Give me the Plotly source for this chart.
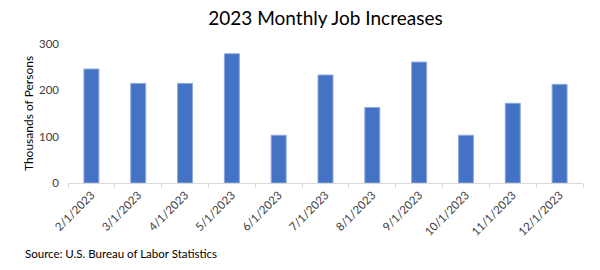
import plotly.graph_objects as go

categories = ["2/1/2023", "3/1/2023", "4/1/2023", "5/1/2023", "6/1/2023", "7/1/2023",
              "8/1/2023", "9/1/2023", "10/1/2023", "11/1/2023", "12/1/2023"]
job_increases = [246, 215, 215, 279, 103, 233, 163, 261, 103, 172, 213]
y_ticks = [0, 100, 200, 300]

FONT = "Lato"
fig = go.Figure()
fig.add_trace(go.Bar(
    x=categories, y=job_increases,
    marker=dict(color="#4472C4", line=dict(color="#8eaadb", width=1)),
    width=0.32,
))

L, R, T, B = 68, 17, 44, 87
fig.update_layout(
    width=600, height=270,
    margin=dict(l=L, r=R, t=T, b=B),
    paper_bgcolor="white", plot_bgcolor="white",
    font=dict(family=FONT, color="#404040", size=11),
    showlegend=False,
    title=dict(text="2023 Monthly Job Increases", x=0.5, xref="paper", y=1 - 18 / 270, yref="container",
               yanchor="middle", font=dict(family=FONT, size=19, color="#000000")),
    xaxis=dict(
        type="category", tickson="boundaries", ticks="outside", ticklen=4,
        tickcolor="#d9d9d9", showline=True, linecolor="#d9d9d9", linewidth=1,
        tickangle=-45, tickfont=dict(size=11.5, color="#404040"), showgrid=False,
    ),
    yaxis=dict(
        range=[0, 300], tickvals=y_ticks, showgrid=False, showline=False,
        zeroline=False, ticks="", tickfont=dict(size=11.5, color="#404040"),
        title=dict(text="Thousands of Persons", font=dict(size=12, color="#000000"), standoff=2),
    ),
)
fig.update_yaxes(ticklabelstandoff=8)
fig.add_annotation(
    text="Source: U.S. Bureau of Labor Statistics", xref="paper", yref="paper",
    x=(23 - L) / (600 - L - R), y=(183 - 253) / (183 - 44), xanchor="left", yanchor="middle",
    showarrow=False, font=dict(family=FONT, size=11.5, color="#000000"),
)
fig.write_html("out.html")
